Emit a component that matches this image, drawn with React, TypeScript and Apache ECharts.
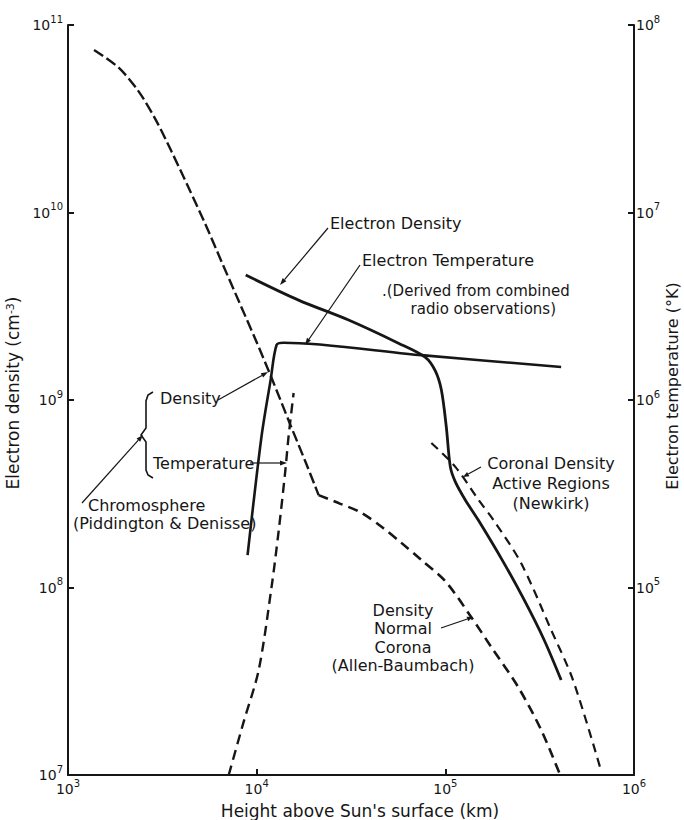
import React, { useEffect, useRef } from "react";
import * as echarts from "echarts";

const INK = "#161616";
const FONT = "DejaVu Sans";

// Axis ranges (decades)
const xRange = [1e3, 1e6];
const densityRange = [1e7, 1e11];
const temperatureRange = [1e4, 1e8];

// Height (km), electron density (cm^-3) — chromosphere (Piddington & Denisse)
const chromoDensity = [
  [1374, 7.36e10], [1862, 5.9e10], [2377, 4.4e10], [2924, 3.11e10], [3550, 2.1e10],
  [4365, 1.35e10], [5370, 8.58e9], [6530, 5.44e9], [8035, 3.37e9], [9885, 2.09e9],
  [12000, 1.31e9], [15100, 7.36e8], [18160, 4.67e8], [20300, 3.52e8], [21300, 3.11e8],
];
// Density, normal corona (Allen-Baumbach)
const allenBaumbach = [
  [21300, 3.11e8], [27200, 2.82e8], [36000, 2.5e8], [47000, 2.07e8], [58500, 1.73e8],
  [74700, 1.4e8], [100000, 1.08e8], [137000, 6.97e7], [175000, 4.82e7], [243000, 2.95e7],
  [322000, 1.74e7], [406000, 1.0e7],
];
// Chromosphere temperature (K)
const chromoTemperature = [
  [7110, 1.0e4], [8530, 1.92e4], [10250, 3.63e4], [12000, 1.01e5], [13100, 2.03e5],
  [14200, 4.24e5], [14750, 6.35e5], [15700, 1.09e6],
];
// Electron temperature (derived from combined radio observations)
const electronTemperature = [
  [8950, 1.49e5], [10600, 6.35e5], [11860, 1.28e6], [12760, 1.97e6], [13900, 2.02e6],
  [72000, 1.74e6], [411000, 1.5e6],
];
// Electron density (derived from combined radio observations)
const electronDensity = [
  [8750, 4.64e9], [16670, 3.41e9], [30700, 2.67e9], [56400, 2.01e9], [78400, 1.69e9],
  [88500, 1.43e9], [95300, 1.13e9], [101200, 7.18e8], [106300, 4.4e8], [113000, 3.66e8],
  [127600, 2.93e8], [149500, 2.29e8], [200300, 1.4e8], [261800, 8.58e7], [334000, 5.25e7],
  [411000, 3.21e7],
];
// Coronal density, active regions (Newkirk)
const newkirk = [
  [84300, 5.9e8], [113000, 4.4e8], [150000, 2.93e8], [180000, 2.29e8], [252000, 1.35e8],
  [364000, 5.93e7], [475000, 3.21e7], [668000, 1.06e7],
];

const labelRich = {
  b: { fontFamily: FONT, fontSize: 14, color: INK, lineHeight: 22 },
  s: { fontFamily: FONT, fontSize: 10, color: INK, lineHeight: 11, verticalAlign: "top" },
};
const powLabel = (v: number) => `{b|10}{s|${Math.round(Math.log10(v))}}`;

function arrow(x1: number, y1: number, x2: number, y2: number, head = 7) {
  const a = Math.atan2(y2 - y1, x2 - x1);
  const hx = x2 - head * Math.cos(a);
  const hy = y2 - head * Math.sin(a);
  const w = 2.4;
  const px = -Math.sin(a) * w;
  const py = Math.cos(a) * w;
  return [
    { type: "line", z: 10, shape: { x1, y1, x2: hx, y2: hy }, style: { stroke: INK, lineWidth: 1.2 } },
    {
      type: "polygon", z: 10,
      shape: { points: [[x2, y2], [hx + px, hy + py], [hx - px, hy - py]] },
      style: { fill: INK },
    },
  ];
}

function label(text: string, x: number, y: number, align = "left", lineHeight = 18, fontSize = 16) {
  return {
    type: "text", z: 10, x, y,
    style: {
      text, fill: INK, fontFamily: FONT, fontSize, lineHeight,
      verticalAlign: "middle", align,
    },
  };
}

export default function App() {
  const ref = useRef<HTMLDivElement>(null);
  useEffect(() => {
    if (!ref.current) return;
    const chart = echarts.init(ref.current, null, { renderer: "svg" });
    const line = (name: string, data: number[][], yAxisIndex: number, dash: any, width = 2.6) => ({
      name, type: "line", data, yAxisIndex, showSymbol: false, smooth: 0.3,
      lineStyle: { color: INK, width, type: dash },
      silent: true,
    });
    const axisCommon = {
      type: "log", logBase: 10,
      axisLine: { show: true, lineStyle: { color: INK, width: 2 } },
      axisTick: { show: true, inside: true, length: 6, lineStyle: { color: INK, width: 2 } },
      splitLine: { show: false },
      minorTick: { show: false },
    };
    chart.setOption({
      animation: false,
      backgroundColor: "#ffffff",
      grid: { left: 68, right: 50, top: 25, bottom: 45, outerBoundsMode: "none", containLabel: false },
      xAxis: {
        ...axisCommon,
        min: xRange[0], max: xRange[1],
        name: "Height above Sun's surface (km)",
        nameLocation: "middle", nameGap: 27,
        nameTextStyle: { fontFamily: FONT, fontSize: 17, color: INK, padding: [0, 0, 0, 18] },
        axisLabel: { formatter: powLabel, rich: labelRich, margin: 3 },
      },
      yAxis: [
        {
          ...axisCommon,
          min: densityRange[0], max: densityRange[1],
          position: "left",
          name: "Electron density (cm{s|-3})",
          nameLocation: "middle", nameGap: 32, nameRotate: 90,
          nameTextStyle: {
            fontFamily: FONT, fontSize: 17, color: INK, padding: [0, 0, 0, 14],
            rich: { s: { fontFamily: FONT, fontSize: 11, color: INK, verticalAlign: "top", lineHeight: 10 } },
          },
          axisLabel: { formatter: powLabel, rich: labelRich, margin: 5 },
        },
        {
          ...axisCommon,
          min: temperatureRange[0], max: temperatureRange[1],
          position: "right",
          axisLabel: {
            formatter: (v: number) => (Math.round(Math.log10(v)) === 4 ? "" : powLabel(v)),
            rich: labelRich, margin: 2,
          },
        },
      ],
      series: [
        line("Chromosphere density", chromoDensity, 0, [11, 4], 2.4),
        line("Normal corona density", allenBaumbach, 0, [10, 6], 2.6),
        line("Chromosphere temperature", chromoTemperature, 1, [10, 6], 2.4),
        line("Electron temperature", electronTemperature, 1, "solid", 2.6),
        line("Electron density", electronDensity, 0, "solid", 2.8),
        line("Coronal density active regions", newkirk, 0, [9, 6], 2.2),
      ],
      graphic: [
        {
          type: "text", z: 10, x: 672, y: 386, rotation: Math.PI / 2,
          style: {
            text: "Electron temperature (°K)", fill: INK, fontFamily: FONT, fontSize: 16,
            align: "center", verticalAlign: "middle",
          },
        },
        label("Electron Density", 330, 223),
        ...arrow(328, 228, 280, 285),
        label("Electron Temperature", 362, 260),
        ...arrow(360, 265, 305, 345),
        label(".(Derived from combined\n      radio observations)", 382, 300, "left", 18, 15),
        label("Density", 160, 398),
        ...arrow(218, 400, 268, 372),
        label("Temperature", 153, 463),
        ...arrow(250, 463, 287, 463),
        {
          type: "polyline", z: 10,
          shape: { points: [[153, 392], [148, 395], [146, 401], [146, 428], [141, 435], [146, 442], [146, 470], [148, 475], [153, 478]] },
          style: { stroke: INK, lineWidth: 1.6, fill: null },
        },
        label("Chromosphere", 88, 505),
        label("(Piddington & Denisse)", 73, 523),
        ...arrow(82, 503, 143, 435),
        label("Coronal Density\nActive Regions\n(Newkirk)", 551, 483, "center", 20),
        ...arrow(481, 467, 463, 477, 6),
        label("Density\nNormal\nCorona\n(Allen-Baumbach)", 403, 638, "center", 18.5),
        ...arrow(441, 628, 473, 617, 6),
      ],
    });
    return () => chart.dispose();
  }, []);
  return (
    <div
      ref={ref}
      style={{ position: "fixed", left: 0, top: 0, width: 684, height: 820, background: "#fff" }}
    />
  );
}
